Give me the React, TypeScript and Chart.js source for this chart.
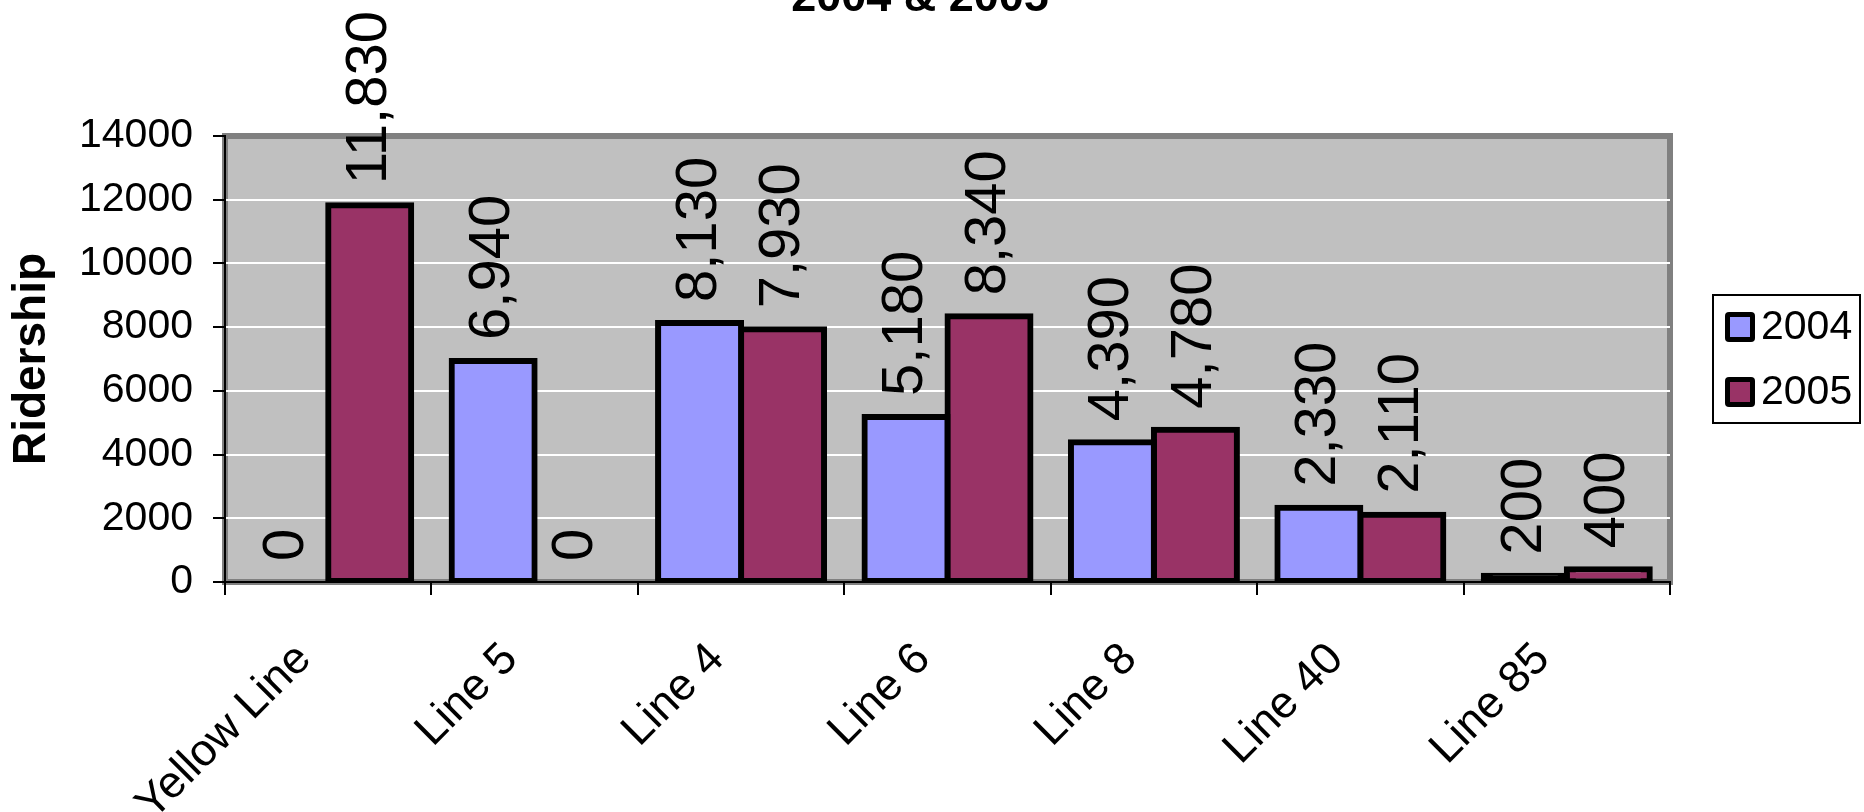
import React, { useEffect, useRef } from "react";
import { Chart, registerables } from "chart.js";

Chart.register(...registerables);

const categories = ["Yellow Line", "Line 5", "Line 4", "Line 6", "Line 8", "Line 40", "Line 85"];
const ridership2004 = [0, 6940, 8130, 5180, 4390, 2330, 200];
const ridership2005 = [11830, 0, 7930, 8340, 4780, 2110, 400];
const seriesLabels = ["2004", "2005"];
const seriesColors = ["#9999FF", "#993366"];
const yTickValues = [0, 2000, 4000, 6000, 8000, 10000, 12000, 14000];
const yTickLabels = ["0", "2000", "4000", "6000", "8000", "10000", "12000", "14000"];
const titleText = "2004 & 2005";
const yAxisTitle = "Ridership";

const FONT = "'Liberation Sans', Arial, sans-serif";
const BORDER = 6;

const framePlugin = {
  id: "plotFrame",
  beforeDraw(chart: any) {
    const { ctx, chartArea: a } = chart;
    ctx.save();
    ctx.fillStyle = "#C0C0C0";
    ctx.fillRect(a.left, a.top, a.right - a.left, a.bottom - a.top);
    ctx.strokeStyle = "#808080";
    ctx.lineWidth = 6;
    ctx.strokeRect(a.left, a.top, a.right - a.left, a.bottom - a.top);
    ctx.restore();
  },
};

const valueLabelPlugin = {
  id: "valueLabels",
  afterDatasetsDraw(chart: any) {
    const ctx = chart.ctx;
    ctx.save();
    ctx.font = `58px ${FONT}`;
    ctx.fillStyle = "#000000";
    ctx.textAlign = "left";
    ctx.textBaseline = "middle";
    chart.data.datasets.forEach((ds: any, di: number) => {
      const meta = chart.getDatasetMeta(di);
      meta.data.forEach((bar: any, i: number) => {
        const v = ds.data[i] as number;
        const txt = v.toLocaleString("en-US");
        ctx.save();
        ctx.translate(bar.x, bar.y - 21);
        ctx.rotate(-Math.PI / 2);
        ctx.fillText(txt, 0, 0);
        ctx.restore();
      });
    });
    ctx.restore();
  },
};

const titleLegendPlugin = {
  id: "titleLegend",
  afterDraw(chart: any) {
    const ctx = chart.ctx;
    ctx.save();
    // title (mostly cut off at the top)
    ctx.font = `bold 45px ${FONT}`;
    ctx.fillStyle = "#000000";
    ctx.textAlign = "center";
    ctx.textBaseline = "alphabetic";
    ctx.fillText(titleText, 920, 11);

    // legend box
    ctx.strokeStyle = "#000000";
    ctx.lineWidth = 2;
    ctx.strokeRect(1713, 295, 147, 128);
    chart.data.datasets.forEach((ds: any, i: number) => {
      const y0 = 312 + i * 65;
      ctx.fillStyle = "#000000";
      ctx.beginPath();
      if ((ctx as any).roundRect) {
        (ctx as any).roundRect(1725, y0, 30, 30, 4);
      } else {
        ctx.rect(1725, y0, 30, 30);
      }
      ctx.fill();
      ctx.fillStyle = seriesColors[i];
      ctx.fillRect(1730, y0 + 5, 20, 20);
      ctx.fillStyle = "#000000";
      ctx.font = `41px ${FONT}`;
      ctx.textAlign = "left";
      ctx.textBaseline = "middle";
      ctx.fillText(ds.label, 1761, y0 + 16);
    });
    ctx.restore();
  },
};

// a bar thinner than its border shows only the border, as in the source
const fillFor = (color: string) => (c: any) => {
  const y = c.chart.scales && c.chart.scales.y;
  if (!y || c.raw == null) return color;
  const h = Math.abs(y.getPixelForValue(0) - y.getPixelForValue(c.raw));
  return h > 0 && h < BORDER + 2 ? "#000000" : color;
};

export default function App() {
  const canvasRef = useRef<HTMLCanvasElement | null>(null);

  useEffect(() => {
    if (!canvasRef.current) return;
    const chart = new Chart(canvasRef.current, {
      type: "bar",
      data: {
        labels: categories,
        datasets: [
          {
            label: seriesLabels[0],
            data: ridership2004,
            backgroundColor: fillFor(seriesColors[0]),
            borderColor: "#000000",
            borderWidth: BORDER,
            borderSkipped: false,
            inflateAmount: 3,
            categoryPercentage: 0.804,
            barPercentage: 1,
          } as any,
          {
            label: seriesLabels[1],
            data: ridership2005,
            backgroundColor: fillFor(seriesColors[1]),
            borderColor: "#000000",
            borderWidth: BORDER,
            borderSkipped: false,
            inflateAmount: 3,
            categoryPercentage: 0.804,
            barPercentage: 1,
          } as any,
        ],
      },
      options: {
        responsive: false,
        animation: false,
        layout: { padding: { top: 136, right: 194, bottom: 0, left: 0 } },
        plugins: {
          legend: { display: false },
          title: { display: false },
          tooltip: { enabled: false },
        },
        scales: {
          x: {
            offset: true,
            grid: {
              display: true,
              offset: true,
              drawOnChartArea: false,
              drawTicks: true,
              tickLength: 13,
              color: "#000000",
              lineWidth: 2,
            },
            border: { display: true, color: "#000000", width: 2 },
            ticks: {
              color: "#000000",
              font: { family: FONT, size: 45 },
              minRotation: 45,
              maxRotation: 45,
              autoSkip: false,
              padding: 38,
              labelOffset: -24,
            },
            afterFit: (s: any) => {
              s.height = 230;
            },
          },
          y: {
            min: 0,
            max: 14000,
            afterBuildTicks: (s: any) => {
              s.ticks = yTickValues.map((v) => ({ value: v }));
            },
            ticks: {
              color: "#000000",
              font: { family: FONT, size: 41 },
              padding: 20,
              callback: (v: any) => {
                const idx = yTickValues.indexOf(Number(v));
                return idx >= 0 ? yTickLabels[idx] : String(v);
              },
            },
            grid: {
              color: (c: any) =>
                c.tick && (c.tick.value === 0 || c.tick.value === 14000) ? "rgba(0,0,0,0)" : "#FFFFFF",
              lineWidth: 2,
              tickColor: "#000000",
              tickLength: 12,
              drawTicks: true,
            },
            border: { display: true, color: "#000000", width: 2 },
            title: {
              display: true,
              text: yAxisTitle,
              color: "#000000",
              font: { family: FONT, size: 46, weight: "bold" },
              padding: { top: 5, bottom: 0 },
            },
            afterFit: (s: any) => {
              s.width = 225;
            },
          },
        },
      } as any,
      plugins: [framePlugin, valueLabelPlugin, titleLegendPlugin],
    });
    return () => chart.destroy();
  }, []);

  return (
    <div style={{ position: "absolute", left: 0, top: 0, width: 1864, height: 812, background: "#FFFFFF" }}>
      <canvas ref={canvasRef} width={1864} height={812} style={{ display: "block" }} />
    </div>
  );
}
